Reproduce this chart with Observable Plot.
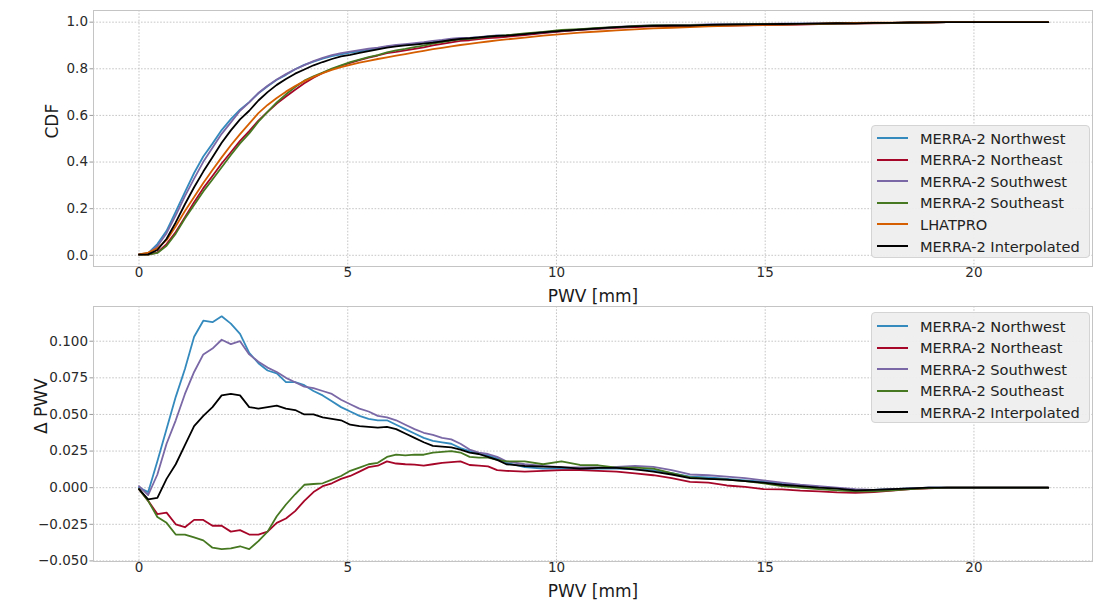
<!DOCTYPE html>
<html>
<head>
<meta charset="utf-8">
<script src="https://cdn.jsdelivr.net/npm/d3@7"></script>
<script src="https://cdn.jsdelivr.net/npm/@observablehq/plot@0.6"></script>
<style>
  html, body { margin: 0; padding: 0; background: #fff; }
  body { font-family: "DejaVu Sans", sans-serif; }
  #wrap { position: relative; width: 1093px; height: 601px; overflow: hidden; background: #fff; }
  #top, #bottom { position: absolute; left: 0; }
  #top { top: 0; z-index: 2; }
  #bottom { top: 300px; z-index: 1; }
  .legend { position: absolute; z-index: 3; background: rgba(238,238,238,0.94); border: 1px solid #d4d4d4; border-radius: 4px; box-sizing: border-box; }
  .legend .row { position: absolute; left: 0; height: 20px; display: flex; align-items: center; font-size: 14.6px; color: #222; white-space: nowrap; }
  .legend .sw { display: inline-block; width: 31px; height: 0; border-top: 2px solid; margin-left: 5px; margin-right: 12px; }
</style>
</head>
<body>
<div id="wrap">
  <div id="top"></div>
  <div id="bottom"></div>
</div>
<script>
// PWV bin positions [mm]
const pwv = [
  0, 0.22, 0.44, 0.66, 0.88, 1.1, 1.32, 1.54, 1.76, 1.98,
  2.2, 2.42, 2.64, 2.86, 3.08, 3.3, 3.52, 3.74, 3.96, 4.18,
  4.4, 4.62, 4.84, 5.06, 5.28, 5.5, 5.72, 5.94, 6.16, 6.38,
  6.6, 6.82, 7.04, 7.26, 7.48, 7.7, 7.92, 8.14, 8.36, 8.58,
  8.8,
  9.24, 9.68, 10.12, 10.56, 11.0, 11.44, 11.88, 12.32, 12.76,
  13.2, 13.64, 14.08, 14.52, 14.96, 15.4, 15.84, 16.28, 16.72, 17.16,
  17.6, 18.04, 18.48, 18.92, 19.36, 19.8, 20.24, 20.68, 21.12, 21.56,
  21.78
];

// LHATPRO CDF
const cdfLHATPRO = [
  0.004, 0.012, 0.03, 0.065, 0.125, 0.19, 0.25, 0.31, 0.366, 0.42,
  0.472, 0.52, 0.565, 0.61, 0.645, 0.675, 0.702, 0.726, 0.747, 0.765,
  0.781, 0.795, 0.807, 0.817, 0.826, 0.834, 0.842, 0.849, 0.856, 0.863,
  0.87, 0.877, 0.884, 0.89, 0.896, 0.902, 0.907, 0.912, 0.917, 0.922,
  0.926,
  0.934, 0.942, 0.949, 0.955, 0.96, 0.965, 0.969, 0.973, 0.976,
  0.979, 0.982, 0.984, 0.986, 0.988, 0.99, 0.992, 0.994, 0.996, 0.997,
  0.998, 0.998, 0.999, 0.999, 1, 1, 1, 1, 1, 1,
  1
];

// Delta PWV (MERRA-2 CDF minus LHATPRO CDF)
const dNorthwest = [
  0, -0.003, 0.018, 0.040, 0.062, 0.081, 0.103, 0.114, 0.113, 0.117,
  0.112, 0.105, 0.092, 0.085, 0.080, 0.078, 0.072, 0.072, 0.070, 0.066,
  0.063, 0.059, 0.055, 0.052, 0.049, 0.047, 0.046, 0.046, 0.043, 0.040,
  0.037, 0.034, 0.032, 0.031, 0.030, 0.027, 0.025, 0.023, 0.022, 0.020,
  0.017,
  0.014, 0.013, 0.013, 0.0125, 0.013, 0.013, 0.0125, 0.012, 0.010,
  0.0075, 0.007, 0.006, 0.005, 0.0042, 0.003, 0.0015, 0.0005, -0.0005, -0.0015,
  -0.0015, -0.001, -0.0005, 0, 0, 0, 0, 0, 0, 0,
  0
];
const dNortheast = [
  -0.001, -0.009, -0.018, -0.017, -0.025, -0.027, -0.022, -0.022, -0.026, -0.026,
  -0.030, -0.029, -0.032, -0.032, -0.030, -0.024, -0.021, -0.016, -0.009, -0.003,
  0.001, 0.003, 0.006, 0.008, 0.011, 0.014, 0.015, 0.018, 0.0165, 0.016,
  0.0158, 0.015, 0.016, 0.017, 0.0175, 0.018, 0.0155, 0.015, 0.0145, 0.012,
  0.0115,
  0.011, 0.0115, 0.012, 0.012, 0.0115, 0.011, 0.0098, 0.0085, 0.0065,
  0.004, 0.0035, 0.0015, 0.0005, -0.001, -0.0012, -0.002, -0.0025, -0.0032, -0.0035,
  -0.003, -0.002, -0.001, -0.0005, 0, 0, 0, 0, 0, 0,
  0
];
const dSouthwest = [
  0.001, -0.005, 0.009, 0.030, 0.046, 0.064, 0.079, 0.091, 0.095, 0.101,
  0.098, 0.100, 0.091, 0.086, 0.082, 0.079, 0.075, 0.072, 0.069, 0.068,
  0.066, 0.064, 0.060, 0.057, 0.054, 0.052, 0.049, 0.048, 0.046, 0.043,
  0.040, 0.0375, 0.036, 0.034, 0.033, 0.030, 0.026, 0.024, 0.023, 0.021,
  0.018,
  0.016, 0.0148, 0.014, 0.0138, 0.0138, 0.0142, 0.0148, 0.0142, 0.012,
  0.009, 0.0085, 0.0075, 0.0065, 0.005, 0.0035, 0.002, 0.001, 0, -0.001,
  -0.0015, -0.001, -0.0005, 0, 0, 0, 0, 0, 0, 0,
  0
];
const dSoutheast = [
  -0.001, -0.009, -0.020, -0.024, -0.032, -0.032, -0.034, -0.036, -0.041, -0.042,
  -0.0415, -0.040, -0.042, -0.0365, -0.030, -0.0195, -0.0115, -0.0045, 0.002, 0.0025,
  0.003, 0.0055, 0.008, 0.0115, 0.0137, 0.016, 0.017, 0.021, 0.0225, 0.022,
  0.0225, 0.0225, 0.024, 0.0245, 0.025, 0.024, 0.021, 0.0205, 0.0205, 0.019,
  0.018,
  0.018, 0.016, 0.018, 0.0155, 0.0153, 0.0137, 0.0137, 0.013, 0.010,
  0.007, 0.006, 0.0055, 0.0045, 0.003, 0.001, 0, -0.001, -0.0018, -0.0025,
  -0.0025, -0.0018, -0.001, -0.0003, 0, 0, 0, 0, 0, 0,
  0
];
const dInterpolated = [
  -0.001, -0.008, -0.007, 0.006, 0.016, 0.029, 0.042, 0.049, 0.055, 0.063,
  0.064, 0.063, 0.055, 0.054, 0.055, 0.056, 0.054, 0.053, 0.050, 0.050,
  0.048, 0.047, 0.046, 0.043, 0.042, 0.0415, 0.041, 0.0415, 0.040, 0.037,
  0.034, 0.031, 0.0285, 0.028, 0.0275, 0.026, 0.024, 0.023, 0.021, 0.019,
  0.016,
  0.0148, 0.0144, 0.014, 0.013, 0.0135, 0.0135, 0.0125, 0.011, 0.009,
  0.0065, 0.006, 0.0055, 0.0045, 0.0035, 0.002, 0.001, 0, -0.0007, -0.0018,
  -0.0015, -0.001, -0.0005, 0, 0, 0, 0, 0, 0, 0,
  0
];

const seriesNames = ["MERRA-2 Northwest", "MERRA-2 Northeast", "MERRA-2 Southwest", "MERRA-2 Southeast", "LHATPRO", "MERRA-2 Interpolated"];
const seriesColors = ["#348ABD", "#A60628", "#7A68A6", "#467821", "#D55E00", "#000000"];

const xTicks = [0, 5, 10, 15, 20];
const cdfTicks = [0, 0.2, 0.4, 0.6, 0.8, 1.0];
const deltaTicks = [-0.05, -0.025, 0, 0.025, 0.05, 0.075, 0.1];

// Build tables
const deltaSets = {
  "MERRA-2 Northwest": dNorthwest,
  "MERRA-2 Northeast": dNortheast,
  "MERRA-2 Southwest": dSouthwest,
  "MERRA-2 Southeast": dSoutheast,
  "MERRA-2 Interpolated": dInterpolated
};
const cdfRows = seriesNames.map(name => ({
  name,
  rows: pwv.map((x, i) => ({x, y: name === "LHATPRO" ? cdfLHATPRO[i] : cdfLHATPRO[i] + deltaSets[name][i]}))
}));
const deltaRows = seriesNames.filter(n => n !== "LHATPRO").map(name => ({
  name,
  rows: pwv.map((x, i) => ({x, y: deltaSets[name][i]}))
}));
const colorOf = Object.fromEntries(seriesNames.map((n, i) => [n, seriesColors[i]]));

const xDomain = [-1.09, 22.84];
const gridStyle = {stroke: "#b8b8b8", strokeOpacity: 0.9, strokeDasharray: "1.6,1.6", strokeWidth: 0.9};

function panel({height, marginTop, marginBottom, yDomain, yTicks, yFormat, yLabel, yLabelDx, sets}) {
  return Plot.plot({
    width: 1093,
    height,
    marginLeft: 93,
    marginRight: 1,
    marginTop,
    marginBottom,
    style: {fontFamily: "DejaVu Sans, sans-serif", background: "none", overflow: "visible"},
    x: {domain: xDomain},
    y: {domain: yDomain},
    marks: [
      Plot.gridX(xTicks, gridStyle),
      Plot.gridY(yTicks, gridStyle),
      Plot.frame({stroke: "#c4c4c4", strokeWidth: 1}),
      ...sets.map(s => Plot.line(s.rows, {x: "x", y: "y", stroke: colorOf[s.name], strokeWidth: 1.8})),
      Plot.axisX(xTicks, {tickSize: 2, tickPadding: -1, fontSize: 13.5, stroke: "#9a9a9a", fill: "#2a2a2a", label: null, tickFormat: d => String(d)}),
      Plot.axisY(yTicks, {tickSize: 3.5, tickPadding: 2, fontSize: 13.5, stroke: "#9a9a9a", fill: "#2a2a2a", label: null, tickFormat: yFormat}),
      Plot.text(["PWV [mm]"], {frameAnchor: "bottom", dy: 35, text: d => d, fontSize: 17, fill: "#1a1a1a"}),
      Plot.text([yLabel], {frameAnchor: "left", dx: yLabelDx, rotate: -90, text: d => d, fontSize: 17, fill: "#1a1a1a"})
    ]
  });
}

const topPlot = panel({
  height: 300, marginTop: 10, marginBottom: 34,
  yDomain: [-0.048, 1.05], yTicks: cdfTicks, yFormat: d3.format(".1f"), yLabel: "CDF", yLabelDx: -41,
  sets: cdfRows
});
const bottomPlot = panel({
  height: 301, marginTop: 6, marginBottom: 40,
  yDomain: [-0.0504, 0.1237], yTicks: deltaTicks, yFormat: d3.format(".3f"), yLabel: "\u0394 PWV", yLabelDx: -52,
  sets: deltaRows
});
document.getElementById("top").appendChild(topPlot);
document.getElementById("bottom").appendChild(bottomPlot);

function legend(names, left, top, width, height, firstRow) {
  const box = document.createElement("div");
  box.className = "legend";
  Object.assign(box.style, {left: left + "px", top: top + "px", width: width + "px", height: height + "px"});
  names.forEach((n, i) => {
    const row = document.createElement("div");
    row.className = "row";
    row.style.top = (firstRow + i * 21.6 - 10) + "px";
    const sw = document.createElement("span");
    sw.className = "sw";
    sw.style.borderTopColor = colorOf[n];
    const t = document.createElement("span");
    t.textContent = n;
    row.appendChild(sw);
    row.appendChild(t);
    box.appendChild(row);
  });
  document.getElementById("wrap").appendChild(box);
}
legend(seriesNames, 871, 125, 219, 133, 12);
legend(seriesNames.filter(n => n !== "LHATPRO"), 871, 312, 219, 111, 13);
</script>
</body>
</html>
